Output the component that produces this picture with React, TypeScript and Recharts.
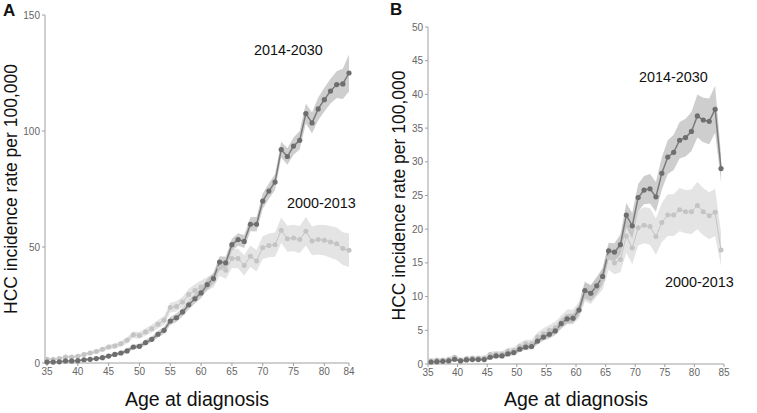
import { ComposedChart, Line, Area, XAxis, YAxis } from "recharts"

// Panel A: age 35..84, rate per 100,000
const agesA = [35, 36, 37, 38, 39, 40, 41, 42, 43, 44, 45, 46, 47, 48, 49, 50, 51, 52, 53, 54, 55, 56, 57, 58, 59, 60, 61, 62, 63, 64, 65, 66, 67, 68, 69, 70, 71, 72, 73, 74, 75, 76, 77, 78, 79, 80, 81, 82, 83, 84]
const recentA = [0.4, 0.4, 0.5, 0.9, 0.9, 1.0, 1.4, 1.6, 1.9, 2.3, 3.0, 3.7, 4.3, 5.2, 6.9, 7.2, 8.8, 10.2, 12.4, 14.1, 18.1, 19.5, 22.0, 25.1, 27.7, 30.2, 33.8, 36.4, 43.5, 43.2, 51.0, 53.2, 52.4, 59.8, 59.8, 69.8, 74.1, 78.0, 92.0, 89.0, 93.5, 96.0, 107.5, 103.5, 109.5, 113.5, 117.2, 120.0, 120.3, 125.0]
const recentALo = [0.1, 0.1, 0.2, 0.5, 0.5, 0.6, 0.9, 1.1, 1.4, 1.7, 2.3, 3.0, 3.5, 4.3, 5.9, 6.2, 7.6, 9.0, 11.0, 12.6, 16.4, 17.7, 20.2, 23.2, 25.7, 28.0, 31.5, 34.0, 41.0, 40.6, 48.4, 50.5, 49.6, 56.8, 56.7, 66.5, 70.8, 74.6, 88.6, 85.4, 89.8, 92.0, 103.2, 99.0, 104.6, 108.4, 111.9, 114.2, 113.8, 117.0]
const recentAHi = [0.7, 0.7, 0.8, 1.3, 1.3, 1.4, 1.9, 2.1, 2.4, 2.9, 3.7, 4.4, 5.1, 6.1, 7.9, 8.2, 10.0, 11.4, 13.8, 15.6, 19.8, 21.3, 23.8, 27.0, 29.7, 32.4, 36.1, 38.8, 46.0, 45.8, 53.6, 55.9, 55.2, 62.8, 62.9, 73.1, 77.4, 81.4, 95.4, 92.6, 97.2, 100.0, 111.8, 108.0, 114.4, 118.6, 122.5, 125.8, 126.8, 133.0]
const pastA = [1.6, 1.6, 1.9, 2.6, 2.6, 2.9, 3.7, 4.3, 5.0, 5.9, 6.9, 7.3, 8.3, 9.8, 12.2, 11.9, 13.4, 14.8, 16.7, 18.4, 23.9, 24.4, 26.3, 29.5, 31.3, 32.8, 34.2, 35.6, 41.0, 40.0, 45.0, 45.0, 42.0, 46.0, 44.0, 49.7, 50.7, 51.0, 57.2, 53.6, 53.9, 53.2, 56.8, 52.6, 53.2, 52.9, 52.2, 51.4, 49.3, 48.6]
const pastALo = [1.1, 1.1, 1.4, 2.0, 2.0, 2.3, 3.0, 3.5, 4.2, 5.0, 5.9, 6.2, 7.1, 8.5, 10.8, 10.4, 11.8, 13.1, 14.9, 16.5, 21.8, 22.2, 24.0, 27.0, 28.7, 30.0, 31.3, 32.5, 37.5, 36.3, 41.0, 40.8, 37.6, 41.4, 39.4, 44.8, 45.6, 45.8, 51.7, 48.0, 48.2, 47.3, 50.7, 46.4, 46.8, 46.3, 45.4, 44.4, 42.2, 41.4]
const pastAHi = [2.1, 2.1, 2.4, 3.2, 3.2, 3.5, 4.4, 5.1, 5.8, 6.8, 7.9, 8.4, 9.5, 11.1, 13.6, 13.4, 15.0, 16.5, 18.5, 20.3, 26.0, 26.6, 28.6, 32.0, 33.9, 35.6, 37.1, 38.7, 44.5, 43.7, 49.0, 49.2, 46.4, 50.6, 48.6, 54.6, 55.8, 56.2, 62.7, 59.2, 59.6, 59.1, 62.9, 58.8, 59.6, 59.5, 59.0, 58.4, 56.4, 55.8]
const xTicksA = [35, 40, 45, 50, 55, 60, 65, 70, 75, 80, 84]
const yTicksA = [0, 50, 100, 150]

// Panel B: age midpoints 35.5..84.5
const agesB = [35.5, 36.5, 37.5, 38.5, 39.5, 40.5, 41.5, 42.5, 43.5, 44.5, 45.5, 46.5, 47.5, 48.5, 49.5, 50.5, 51.5, 52.5, 53.5, 54.5, 55.5, 56.5, 57.5, 58.5, 59.5, 60.5, 61.5, 62.5, 63.5, 64.5, 65.5, 66.5, 67.5, 68.5, 69.5, 70.5, 71.5, 72.5, 73.5, 74.5, 75.5, 76.5, 77.5, 78.5, 79.5, 80.5, 81.5, 82.5, 83.5, 84.5]
const recentB = [0.3, 0.35, 0.4, 0.45, 0.7, 0.45, 0.6, 0.65, 0.65, 0.65, 1.0, 1.2, 1.2, 1.5, 1.7, 2.2, 2.5, 2.6, 3.4, 4.0, 4.4, 4.9, 6.0, 6.7, 6.8, 8.0, 10.9, 10.5, 11.6, 13.0, 16.8, 16.6, 17.7, 22.1, 20.5, 24.7, 25.8, 26.0, 24.8, 28.3, 30.7, 31.4, 33.2, 33.6, 34.5, 36.8, 36.2, 36.0, 37.8, 29.0]
const recentBLo = [0.1, 0.15, 0.2, 0.25, 0.5, 0.25, 0.4, 0.45, 0.45, 0.45, 0.7, 0.9, 0.9, 1.2, 1.3, 1.8, 2.1, 2.2, 2.9, 3.5, 3.8, 4.3, 5.3, 6.0, 6.1, 7.2, 9.7, 9.3, 10.4, 11.8, 15.6, 15.3, 16.2, 20.3, 18.6, 22.7, 23.7, 23.8, 22.6, 25.9, 28.2, 28.8, 30.5, 30.8, 31.6, 33.6, 32.9, 32.6, 34.3, 27.0]
const recentBHi = [0.5, 0.55, 0.6, 0.65, 0.9, 0.65, 0.8, 0.85, 0.85, 0.85, 1.3, 1.5, 1.5, 1.8, 2.1, 2.6, 2.9, 3.0, 3.9, 4.5, 5.0, 5.5, 6.7, 7.4, 7.5, 8.8, 12.1, 11.7, 12.8, 14.2, 18.0, 17.9, 19.2, 23.9, 22.4, 26.7, 27.9, 28.2, 27.0, 30.7, 33.2, 34.0, 35.9, 36.4, 37.4, 40.0, 39.5, 39.4, 41.3, 31.0]
const pastB = [0.5, 0.6, 0.6, 0.7, 1.0, 0.6, 0.8, 0.9, 0.9, 0.9, 1.4, 1.5, 1.5, 1.9, 2.0, 2.6, 3.0, 3.0, 4.0, 4.5, 5.0, 5.4, 6.2, 7.0, 7.0, 8.0, 10.8, 10.3, 11.5, 12.6, 15.8, 15.0, 15.5, 19.0, 17.2, 20.2, 20.6, 20.4, 18.9, 21.0, 22.1, 22.1, 22.9, 22.6, 22.6, 23.5, 22.6, 22.0, 22.5, 16.9]
const pastBLo = [0.2, 0.3, 0.3, 0.4, 0.6, 0.3, 0.5, 0.6, 0.6, 0.6, 1.0, 1.1, 1.1, 1.4, 1.5, 2.0, 2.4, 2.4, 3.3, 3.7, 4.2, 4.5, 5.2, 5.9, 5.9, 6.8, 9.3, 8.9, 10.0, 11.0, 14.0, 13.3, 13.6, 16.5, 14.8, 17.6, 17.9, 17.7, 16.2, 18.1, 19.0, 19.0, 19.7, 19.4, 19.3, 20.0, 19.1, 18.5, 19.0, 14.5]
const pastBHi = [0.8, 0.9, 0.9, 1.0, 1.4, 0.9, 1.1, 1.2, 1.2, 1.2, 1.8, 1.9, 1.9, 2.4, 2.5, 3.2, 3.6, 3.6, 4.7, 5.3, 5.8, 6.3, 7.2, 8.1, 8.1, 9.2, 12.3, 11.7, 13.0, 14.2, 17.6, 16.7, 17.4, 21.5, 19.6, 22.8, 23.3, 23.1, 21.6, 23.9, 25.2, 25.2, 26.1, 25.8, 25.9, 27.0, 26.1, 25.5, 26.0, 19.5]
const xTicksB = [35, 40, 45, 50, 55, 60, 65, 70, 75, 80, 85]
const yTicksB = [0, 5, 10, 15, 20, 25, 30, 35, 40, 45, 50]

const font = "'Liberation Sans', Arial, Helvetica, sans-serif"
const tickFont = "'Liberation Sans Narrow', 'Liberation Sans', Arial, sans-serif"

function rows(ages: number[], recent: number[], rLo: number[], rHi: number[], past: number[], pLo: number[], pHi: number[]) {
  return ages.map((age, i) => ({
    age,
    recent: recent[i],
    past: past[i],
    recentBand: [rLo[i], rHi[i]],
    pastBand: [pLo[i], pHi[i]],
  }))
}

const dataA = rows(agesA, recentA, recentALo, recentAHi, pastA, pastALo, pastAHi)
const dataB = rows(agesB, recentB, recentBLo, recentBHi, pastB, pastBLo, pastBHi)

type PanelProps = {
  data: any[]
  width: number
  margin: { top: number; right: number; bottom: number; left: number }
  xTicks: number[]
  xDomain: [number, number]
  xPad: number
  xHeight: number
  yTicks: number[]
  yDomain: [number, number]
  yWidth: number
  yLabelOffset: number
}

function Panel(p: PanelProps) {
  return (
    <ComposedChart width={p.width} height={413} data={p.data} margin={p.margin}>
      <XAxis
        dataKey="age"
        type="number"
        domain={p.xDomain}
        ticks={p.xTicks}
        interval={0}
        padding={{ left: p.xPad, right: 0 }}
        height={p.xHeight}
        stroke="#a0a0a0"
        tickSize={3}
        tick={{ fill: "#666", fontSize: 10, fontFamily: tickFont }}
        label={{ value: "Age at diagnosis", position: "insideBottom", offset: 7, fontSize: 19.5, fill: "#111", fontFamily: font }}
      />
      <YAxis
        type="number"
        domain={p.yDomain}
        ticks={p.yTicks}
        interval={0}
        width={p.yWidth}
        stroke="#a0a0a0"
        tickSize={3}
        tick={{ fill: "#666", fontSize: 10, fontFamily: tickFont }}
        label={{
          value: "HCC incidence rate per 100,000",
          angle: -90,
          position: "insideLeft",
          offset: p.yLabelOffset,
          fontSize: 17.5,
          fill: "#111",
          fontFamily: font,
          style: { textAnchor: "middle" },
        }}
      />
      <Area type="linear" dataKey="pastBand" fill="#e4e4e4" fillOpacity={1} stroke="none" dot={false} activeDot={false} isAnimationActive={false} />
      <Area type="linear" dataKey="recentBand" fill="#b4b4b4" fillOpacity={0.65} stroke="none" dot={false} activeDot={false} isAnimationActive={false} />
      <Line type="linear" dataKey="past" stroke="#c4c4c4" strokeWidth={1} dot={{ r: 2.5, fill: "#c4c4c4", stroke: "none" }} isAnimationActive={false} />
      <Line type="linear" dataKey="recent" stroke="#7a7a7a" strokeWidth={1.5} dot={{ r: 2.6, fill: "#6e6e6e", stroke: "none" }} isAnimationActive={false} />
    </ComposedChart>
  )
}

export default function App() {
  return (
    <div style={{ position: "absolute", left: 0, top: 0, width: 757, height: 413, background: "#fff", fontFamily: font }}>
      <div style={{ position: "absolute", left: 0, top: 0 }}>
        <Panel
          data={dataA}
          width={360}
          margin={{ top: 15, right: 11, bottom: 0, left: 0 }}
          xTicks={xTicksA}
          xDomain={[35, 84]}
          xPad={2}
          xHeight={50}
          yTicks={yTicksA}
          yDomain={[0, 150]}
          yWidth={45}
          yLabelOffset={10.5}
        />
      </div>
      <div style={{ position: "absolute", left: 380, top: 0 }}>
        <Panel
          data={dataB}
          width={377}
          margin={{ top: 27, right: 33, bottom: 0, left: 0 }}
          xTicks={xTicksB}
          xDomain={[35, 85]}
          xPad={0}
          xHeight={49}
          yTicks={yTicksB}
          yDomain={[0, 50]}
          yWidth={48}
          yLabelOffset={18.5}
        />
      </div>
      <svg width={757} height={413} style={{ position: "absolute", left: 0, top: 0, pointerEvents: "none" }}>
        <g fontFamily={font} fill="#111">
          <text x={3} y={16} fontSize={17} fontWeight="bold">A</text>
          <text x={390} y={15} fontSize={17} fontWeight="bold">B</text>
          <text x={254} y={55} fontSize={14.4}>2014-2030</text>
          <text x={287} y={208} fontSize={14.4}>2000-2013</text>
          <text x={639} y={82} fontSize={14.4}>2014-2030</text>
          <text x={665} y={287} fontSize={14.4}>2000-2013</text>
        </g>
      </svg>
    </div>
  )
}
